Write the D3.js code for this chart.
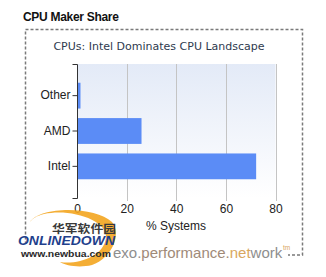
<!DOCTYPE html>
<html><head><meta charset="utf-8">
<script src="https://cdn.jsdelivr.net/npm/d3@7"></script>
<style>body{margin:0;background:#fff}svg{display:block}</style>
</head><body>
<script>
const categories = ["Other", "AMD", "Intel"];
const shares = [1.2, 25.8, 72];
const xTicks = [0, 20, 40, 60, 80];
const title = "CPU Maker Share";
const subtitle = "CPUs: Intel Dominates CPU Landscape";
const xLabel = "% Systems";

const W = 326, H = 277;
const svg = d3.select("body").append("svg").attr("width", W).attr("height", H);
svg.append("rect").attr("width", W).attr("height", H).attr("fill", "#fff");

const defs = svg.append("defs");
const g1 = defs.append("linearGradient").attr("id", "bg").attr("x1", 0).attr("y1", 0).attr("x2", 0).attr("y2", 1);
g1.append("stop").attr("offset", "0%").attr("stop-color", "#e3eaf7");
g1.append("stop").attr("offset", "100%").attr("stop-color", "#ffffff");

// title
svg.append("text").attr("x", 23).attr("y", 21).attr("font-family", "Liberation Sans, Arial")
  .attr("font-weight", "bold").attr("font-size", 12).attr("fill", "#111").attr("letter-spacing", -0.3).text(title);

// dashed frame
svg.append("rect").attr("x", 25.5).attr("y", 29.5).attr("width", 277).attr("height", 225.5)
  .attr("fill", "none").attr("stroke", "#7a7a7a").attr("stroke-width", 1.5).attr("stroke-dasharray", "3,2");

svg.append("text").attr("x", 159).attr("y", 50).attr("text-anchor", "middle")
  .attr("font-family", "DejaVu Sans, Verdana").attr("font-size", 11).attr("fill", "#2e3a4e").text(subtitle);

const m = {l: 77, r: 275.5, t: 64, b: 198};
const x = d3.scaleLinear().domain([0, 80]).range([m.l, m.r]);
const y = d3.scaleBand().domain(categories).range([m.t, m.b]).paddingOuter(0.53).paddingInner(0.27);

svg.append("rect").attr("x", m.l).attr("y", m.t).attr("width", m.r - m.l).attr("height", m.b - m.t).attr("fill", "url(#bg)");

// grid
svg.append("g").selectAll("line").data(xTicks.filter(d => d > 0)).join("line")
  .attr("x1", d => Math.round(x(d)) + 0.5).attr("x2", d => Math.round(x(d)) + 0.5)
  .attr("y1", m.t).attr("y2", m.b + 3).attr("stroke", "#c4c4c4");

// bars
svg.append("g").selectAll("rect").data(categories).join("rect")
  .attr("x", x(0) + 0.5).attr("y", d => y(d))
  .attr("width", (d, i) => x(shares[i]) - x(0)).attr("height", y.bandwidth())
  .attr("fill", "#5b8cf6");

// y axis
const ya = svg.append("g").attr("transform", `translate(${m.l + 0.5},0)`)
  .call(d3.axisLeft(y).tickSize(5).tickSizeOuter(5).tickPadding(2));
ya.selectAll("path,line").attr("stroke", "#333");
ya.selectAll("text").attr("font-family", "Liberation Sans, Arial").attr("font-size", 12).attr("fill", "#222");
ya.select(".domain").attr("d", `M-5,${m.t + 0.5}H0V${m.b + 0.5}H-5`);

// x axis labels
const xa = svg.append("g").attr("transform", `translate(0,${m.b})`)
  .call(d3.axisBottom(x).tickValues(xTicks).tickSize(0).tickPadding(6));
xa.select(".domain").remove();
xa.selectAll("text").attr("font-family", "Liberation Sans, Arial").attr("font-size", 12).attr("fill", "#222");
svg.append("text").attr("x", 176).attr("y", 230).attr("text-anchor", "middle")
  .attr("font-family", "Liberation Sans, Arial").attr("font-size", 12).attr("fill", "#222").text(xLabel);

// bottom network text with white backing
svg.append("rect").attr("x", 18).attr("y", 244).attr("width", 270).attr("height", 18).attr("fill", "#fff");
const nt = svg.append("text").attr("x", 113).attr("y", 258).attr("font-family", "Liberation Sans, Arial")
  .attr("font-size", 15).attr("fill", "#8e8e8e");
nt.append("tspan").text("exo.");
nt.append("tspan").attr("fill", "#a08a78").text("performance.");
nt.append("tspan").attr("fill", "#d9a75e").text("net");
nt.append("tspan").text("work");
svg.append("text").attr("x", 283).attr("y", 250).attr("font-family", "Liberation Sans, Arial")
  .attr("font-size", 6.5).attr("fill", "#d9a75e").text("tm");

// watermark logo
const wm = svg.append("g");
wm.append("rect").attr("x", 18).attr("y", 214).attr("width", 6).attr("height", 30).attr("fill", "#fff");
wm.append("path").attr("d", "M30,222 C40,206 95,206 112,222 C122,234 112,258 92,265 C80,268 66,266 60,262 C78,265 104,256 106,238 C108,220 70,208 44,214 C36,216 32,219 30,222 Z")
  .attr("fill", "#f3a51f").attr("opacity", 0.9);
wm.append("text").attr("x", 52).attr("y", 232.5).attr("font-family", "Noto Sans CJK SC").attr("font-weight", "bold")
  .attr("font-size", 11).attr("fill", "#3a3a3a").attr("textLength", 64).attr("lengthAdjust", "spacingAndGlyphs").text("华军软件园");
wm.append("text").attr("x", 18).attr("y", 245).attr("font-family", "Liberation Sans, Arial").attr("font-weight", "bold")
  .attr("font-style", "italic").attr("font-size", 12).attr("fill", "#1f3f8c").attr("textLength", 97).attr("lengthAdjust", "spacingAndGlyphs").text("ONLINEDOWN");
wm.append("text").attr("x", 21).attr("y", 257).attr("font-family", "Liberation Sans, Arial").attr("font-weight", "bold")
  .attr("font-size", 9).attr("fill", "#2a2a2a").attr("textLength", 90).attr("lengthAdjust", "spacingAndGlyphs").text("www.newbua.com");
</script>
</body></html>
